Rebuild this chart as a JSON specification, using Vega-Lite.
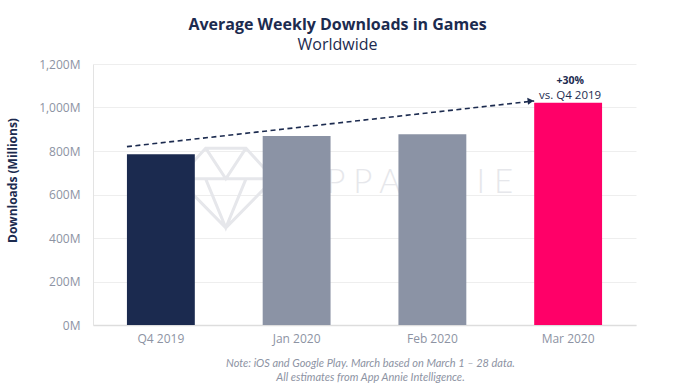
{
  "$schema": "https://vega.github.io/schema/vega-lite/v6.json",
  "width": 543,
  "height": 261,
  "autosize": {"type": "none"},
  "padding": {"left": 93, "top": 64, "right": 44, "bottom": 67},
  "background": "white",
  "config": {
    "font": "Open Sans",
    "view": {"stroke": null}
  },
  "title": {
    "text": "Average Weekly Downloads in Games",
    "subtitle": "Worldwide",
    "anchor": "middle",
    "dx": -27,
    "font": "Open Sans",
    "fontSize": 16,
    "fontWeight": "bold",
    "color": "#1c2b4f",
    "subtitleFont": "Open Sans",
    "subtitleFontSize": 16,
    "subtitleColor": "#1c2b4f",
    "subtitlePadding": 4,
    "offset": 5
  },
  "encoding": {
    "x": {
      "field": "period",
      "type": "nominal",
      "scale": {"domain": ["Q4 2019", "Jan 2020", "Feb 2020", "Mar 2020"], "paddingInner": 0.5, "paddingOuter": 0.25},
      "axis": {
        "title": ["Note: iOS and Google Play. March based on March 1 – 28 data.", "All estimates from App Annie Intelligence."],
        "titleFont": "Lato",
        "titleFontStyle": "italic",
        "titleFontWeight": "normal",
        "titleFontSize": 11,
        "titleColor": "#8d93a3",
        "titlePadding": 13,
        "titleX": 277,
        "titleLineHeight": 14,
        "labelAngle": 0,
        "labelFontSize": 12,
        "labelColor": "#8d93a3",
        "labelPadding": 8,
        "ticks": false,
        "domainColor": "#dddddd",
        "domainWidth": 1.5
      }
    }
  },
  "layer": [
    {
      "data": {"values": [{"label": "A P P   A N N I E", "period": "Jan 2020", "downloads": 655}]},
      "mark": {"type": "text", "align": "left", "baseline": "middle", "font": "Lato", "fontSize": 33, "fontWeight": 300, "color": "#e6e7eb"},
      "encoding": {
        "y": {"field": "downloads", "type": "quantitative"},
        "text": {"field": "label"}
      }
    },
    {
      "data": {"values": [{"period": "Q4 2019", "downloads": 630}]},
      "mark": {
        "type": "point",
        "shape": "M -0.42 -0.83 L 0.42 -0.83 L 1 -0.19 L 0 0.83 L -1 -0.19 Z M -1 -0.19 L 1 -0.19 M -0.42 -0.83 L 0 -0.19 L 0.42 -0.83 M -0.42 -0.19 L 0 0.83 L 0.42 -0.19",
        "filled": false,
        "size": 9216,
        "strokeWidth": 3,
        "color": "#e6e7eb",
        "opacity": 1,
        "xOffset": 31
      },
      "encoding": {
        "x": {"field": "period", "type": "nominal", "bandPosition": 1},
        "y": {"field": "downloads", "type": "quantitative"}
      }
    },
    {
      "data": {"values": [
        {"period": "Q4 2019", "downloads": 785},
        {"period": "Jan 2020", "downloads": 869},
        {"period": "Feb 2020", "downloads": 877},
        {"period": "Mar 2020", "downloads": 1022}
      ]},
      "mark": {"type": "bar"},
      "encoding": {
        "y": {
          "field": "downloads",
          "type": "quantitative",
          "scale": {"domain": [0, 1200]},
          "axis": {
            "values": [0, 200, 400, 600, 800, 1000, 1200],
            "labelExpr": "format(datum.value, ',') + 'M'",
            "labelFontSize": 12,
            "labelColor": "#8d93a3",
            "labelPadding": 13,
            "ticks": false,
            "gridColor": "#eeeeee",
            "domainColor": "#e3e3e3",
            "title": "Downloads (Millions)",
            "titleFontSize": 12,
            "titleFontWeight": "bold",
            "titleColor": "#1c2b4f",
            "titleX": -74,
            "titleY": 116
          }
        },
        "color": {
          "field": "period",
          "type": "nominal",
          "scale": {"domain": ["Q4 2019", "Jan 2020", "Feb 2020", "Mar 2020"], "range": ["#1b2a4f", "#8b93a5", "#8b93a5", "#ff0068"]},
          "legend": null
        }
      }
    },
    {
      "data": {"values": [
        {"period": "Q4 2019", "downloads": 820},
        {"period": "Mar 2020", "downloads": 1030}
      ]},
      "mark": {"type": "line", "color": "#1c2b4f", "strokeWidth": 1.6, "strokeDash": [5, 3.5]},
      "encoding": {
        "x": {"field": "period", "type": "nominal", "bandPosition": 0},
        "y": {"field": "downloads", "type": "quantitative"}
      }
    },
    {
      "data": {"values": [{"period": "Mar 2020", "downloads": 1030}]},
      "mark": {"type": "point", "shape": "triangle-right", "filled": true, "size": 50, "angle": -6.5, "color": "#1c2b4f", "opacity": 1, "xOffset": -3.5},
      "encoding": {
        "x": {"field": "period", "type": "nominal", "bandPosition": 0},
        "y": {"field": "downloads", "type": "quantitative"}
      }
    },
    {
      "data": {"values": [{"period": "Mar 2020", "downloads": 1022, "top": "+30%", "bottom": "vs. Q4 2019"}]},
      "layer": [
        {
          "mark": {"type": "text", "baseline": "middle", "fontSize": 10.5, "fontWeight": "bold", "color": "#1c2b4f", "dy": -22, "dx": 2},
          "encoding": {
            "y": {"field": "downloads", "type": "quantitative"},
            "text": {"field": "top"}
          }
        },
        {
          "mark": {"type": "text", "baseline": "middle", "fontSize": 11.5, "color": "#1c2b4f", "dy": -7, "dx": 2},
          "encoding": {
            "y": {"field": "downloads", "type": "quantitative"},
            "text": {"field": "bottom"}
          }
        }
      ]
    }
  ]
}
